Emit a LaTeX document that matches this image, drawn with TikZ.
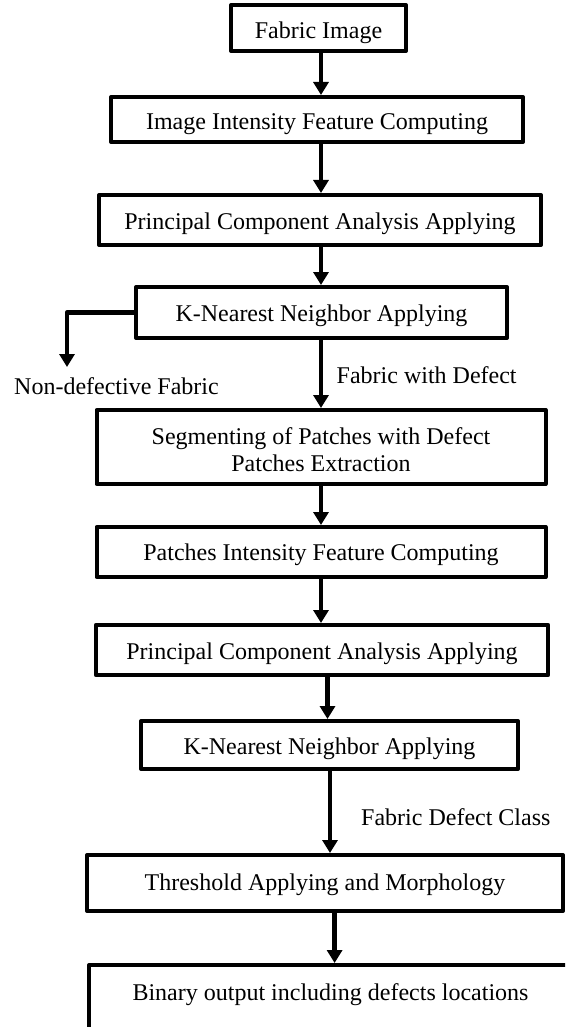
\documentclass[tikz,border=0pt]{standalone}
\usepackage{fontspec}
\setmainfont{Liberation Serif}
\usetikzlibrary{arrows.meta}
\tikzset{
  stepbox/.style={draw=black, line width=4pt, line join=round, inner sep=0pt,
    font=\fontsize{24}{27.4}\selectfont, text depth=0pt},
  bl/.style={text height=#1},
  arr/.style={line width=4.5pt, -{Triangle[width=15pt,length=13pt]}},
  lbl/.style={inner sep=0pt, font=\fontsize{24}{27.4}\selectfont, anchor=base west}
}
\begin{document}
\begin{tikzpicture}[x=1pt,y=-1pt]
\useasboundingbox (0,0) rectangle (565,1027);
\fill[white] (0,0) rectangle (565,1027);
\clip (0,0) rectangle (565,1027);

\node[stepbox, bl=22pt, minimum width=175pt, minimum height=46pt] (fab) at (318.5,28) {Fabric Image};
\node[stepbox, bl=20pt, minimum width=412pt, minimum height=45pt] (b2) at (317,119.5) {Image Intensity Feature Computing};
\node[stepbox, bl=18.6pt, minimum width=442pt, minimum height=50pt] (pca1) at (320,220) {Principal Component Analysis Applying};
\node[stepbox, bl=18.4pt, minimum width=371pt, minimum height=51pt] (knn1) at (321.5,312.5) {K-Nearest Neighbor Applying};
\node[stepbox, align=center, bl=49.4pt, minimum width=449pt, minimum height=74pt] (seg) at (321,447) {Segmenting of Patches with Defect\\Patches Extraction};
\node[stepbox, bl=17.4pt, minimum width=449pt, minimum height=50pt] (pat) at (321,552) {Patches Intensity Feature Computing};
\node[stepbox, bl=18.6pt, minimum width=452.5pt, minimum height=50pt] (pca2) at (322,650) {Principal Component Analysis Applying};
\node[stepbox, bl=18.6pt, minimum width=377pt, minimum height=48pt] (knn2) at (329.5,745) {K-Nearest Neighbor Applying};
\node[stepbox, bl=15.4pt, minimum width=476pt, minimum height=56pt] (thr) at (325,883) {Threshold Applying and Morphology};
\node[stepbox, bl=7.9pt, minimum width=483pt, minimum height=63.5pt] (bin) at (330.5,996.75) {Binary output including defects locations};

\node[lbl] (nondef) at (14,394.3) {Non-defective Fabric};
\node[lbl] (withdef) at (336.5,383.3) {Fabric with Defect};
\node[lbl] (defcls) at (361,825) {Fabric Defect Class};

\coordinate (ndend) at (67,367);

\draw[arr] ([xshift=2.5pt]fab.south) -- ([xshift=4pt]b2.north);
\draw[arr] ([xshift=4pt]b2.south) -- ([xshift=1pt]pca1.north);
\draw[arr] ([xshift=1pt]pca1.south) -- ([xshift=-0.5pt]knn1.north);
\draw[arr] ([xshift=-0.5pt]knn1.south) -- (seg.north);
\draw[arr, line join=round] (knn1.west) -| (ndend);
\draw[arr] (seg.south) -- (pat.north);
\draw[arr] (pat.south) -- ([xshift=-1pt]pca2.north);
\draw[arr] ([xshift=5.5pt]pca2.south) -- ([xshift=-2pt]knn2.north);
\draw[arr] ([xshift=0.5pt]knn2.south) -- ([xshift=5pt]thr.north);
\draw[arr] ([xshift=9.6pt]thr.south) -- ([xshift=4.1pt]bin.north);
\end{tikzpicture}
\end{document}
